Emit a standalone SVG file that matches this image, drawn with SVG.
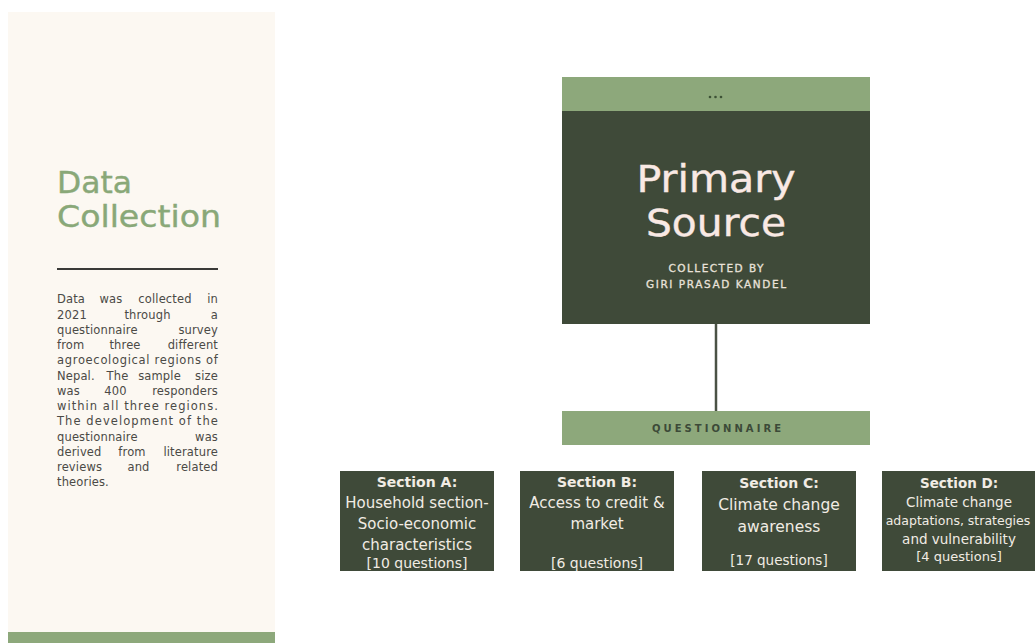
<svg xmlns="http://www.w3.org/2000/svg" width="1035" height="643" viewBox="0 0 1035 643">
<style>
text{font-family:"DejaVu Sans","Liberation Sans",sans-serif}
.b{font-size:11.5px;fill:#4b4a46;letter-spacing:0.15px}
.m{text-anchor:middle}
.e{text-anchor:end}
.box{fill:#3f4a39}
.green{fill:#8da87b}
.st{fill:#f1ece4;text-anchor:middle}
.sh{font-weight:bold}
</style>
<rect width="1035" height="643" fill="#ffffff"/>
<g id="sidebar">
<rect x="8" y="12" width="267" height="631" fill="#fcf8f2"/>
<rect x="8" y="632" width="267" height="11" class="green"/>
<text x="57" y="193" font-size="30" fill="#89a878" stroke="#89a878" stroke-width="0.4" textLength="75" lengthAdjust="spacingAndGlyphs">Data</text>
<text x="57" y="227" font-size="30" fill="#89a878" stroke="#89a878" stroke-width="0.4" textLength="164" lengthAdjust="spacingAndGlyphs">Collection</text>
<line x1="57" y1="269" x2="218" y2="269" stroke="#3a3a38" stroke-width="2"/>
<g class="b">
<text x="57" y="303">Data</text><text x="111" y="303" class="m">was</text><text x="165" y="303" class="m">collected</text><text x="218" y="303" class="e">in</text>
<text x="57" y="318.5">2021</text><text x="147.5" y="318.5" class="m">through</text><text x="218" y="318.5" class="e">a</text>
<text x="57" y="333.5">questionnaire</text><text x="218" y="333.5" class="e">survey</text>
<text x="57" y="349">from</text><text x="125" y="349" class="m">three</text><text x="218" y="349" class="e">different</text>
<text x="57" y="364" textLength="161" lengthAdjust="spacing">agroecological regions of</text>
<text x="57" y="379.5">Nepal.</text><text x="117.5" y="379.5" class="m">The</text><text x="159.5" y="379.5" class="m">sample</text><text x="218" y="379.5" class="e">size</text>
<text x="57" y="394.5">was</text><text x="115.5" y="394.5" class="m">400</text><text x="218" y="394.5" class="e">responders</text>
<text x="57" y="410" textLength="161" lengthAdjust="spacing">within all three regions.</text>
<text x="57" y="425" textLength="161" lengthAdjust="spacing">The development of the</text>
<text x="57" y="440.5">questionnaire</text><text x="218" y="440.5" class="e">was</text>
<text x="57" y="455.5">derived</text><text x="132" y="455.5" class="m">from</text><text x="218" y="455.5" class="e">literature</text>
<text x="57" y="471">reviews</text><text x="138.5" y="471" class="m">and</text><text x="218" y="471" class="e">related</text>
<text x="57" y="486">theories.</text>
</g>
</g>
<g id="connectors">
<line x1="716" y1="324" x2="716" y2="411" stroke="#4a5245" stroke-width="2.5"/>
</g>
<g id="primary-source">
<rect x="562" y="77" width="308" height="34" class="green"/>
<rect x="562" y="111" width="308" height="213" class="box"/>
<circle cx="710" cy="97" r="1.3" fill="#3d5236"/><circle cx="715.5" cy="97" r="1.3" fill="#3d5236"/><circle cx="721" cy="97" r="1.3" fill="#3d5236"/>
<text x="716" y="192" class="m" font-size="37" fill="#f9e9e4" stroke="#f9e9e4" stroke-width="0.4" textLength="159" lengthAdjust="spacingAndGlyphs">Primary</text>
<text x="716" y="236" class="m" font-size="37" fill="#f9e9e4" stroke="#f9e9e4" stroke-width="0.4" textLength="140" lengthAdjust="spacingAndGlyphs">Source</text>
<text x="716" y="272" class="m" font-size="10.5" fill="#e9e2da" stroke="#e9e2da" stroke-width="0.3" textLength="95">COLLECTED BY</text>
<text x="716" y="288" class="m" font-size="10.5" fill="#e9e2da" stroke="#e9e2da" stroke-width="0.3" textLength="140">GIRI PRASAD KANDEL</text>
</g>
<g id="questionnaire">
<rect x="562" y="411" width="308" height="34" class="green"/>
<text x="716.5" y="432" class="m" font-size="10" font-weight="bold" fill="#3c4a38" textLength="129" lengthAdjust="spacing">QUESTIONNAIRE</text>
</g>
<g id="section-a">
<rect x="340" y="471" width="154" height="100" class="box"/>
<text x="417" y="487" class="st sh" style="font-size:14px">Section A:</text>
<text x="417" y="508" class="st" style="font-size:15px">Household section-</text>
<text x="417" y="529" class="st" style="font-size:15px">Socio-economic</text>
<text x="417" y="550" class="st" style="font-size:15px">characteristics</text>
<text x="417" y="568" class="st" style="font-size:14px">[10 questions]</text>
</g>
<g id="section-b">
<rect x="520" y="471" width="154" height="100" class="box"/>
<text x="597" y="487" class="st sh" style="font-size:14px">Section B:</text>
<text x="597" y="508" class="st" style="font-size:15px">Access to credit &amp;</text>
<text x="597" y="529" class="st" style="font-size:15px">market</text>
<text x="597" y="568" class="st" style="font-size:14px">[6 questions]</text>
</g>
<g id="section-c">
<rect x="702" y="471" width="154" height="100" class="box"/>
<text x="779" y="488" class="st sh" style="font-size:14px">Section C:</text>
<text x="779" y="510" class="st" style="font-size:15.5px">Climate change</text>
<text x="779" y="532" class="st" style="font-size:15.5px">awareness</text>
<text x="779" y="565" class="st" style="font-size:13.5px">[17 questions]</text>
</g>
<g id="section-d">
<rect x="882" y="471" width="153" height="100" class="box"/>
<text x="959" y="488" class="st sh" style="font-size:13.5px">Section D:</text>
<text x="959" y="507" class="st" style="font-size:13.5px">Climate change</text>
<text x="958" y="525" class="st" style="font-size:12.5px">adaptations, strategies</text>
<text x="959" y="544" class="st" style="font-size:13.5px">and vulnerability</text>
<text x="959" y="561" class="st" style="font-size:13px">[4 questions]</text>
</g>
</svg>
